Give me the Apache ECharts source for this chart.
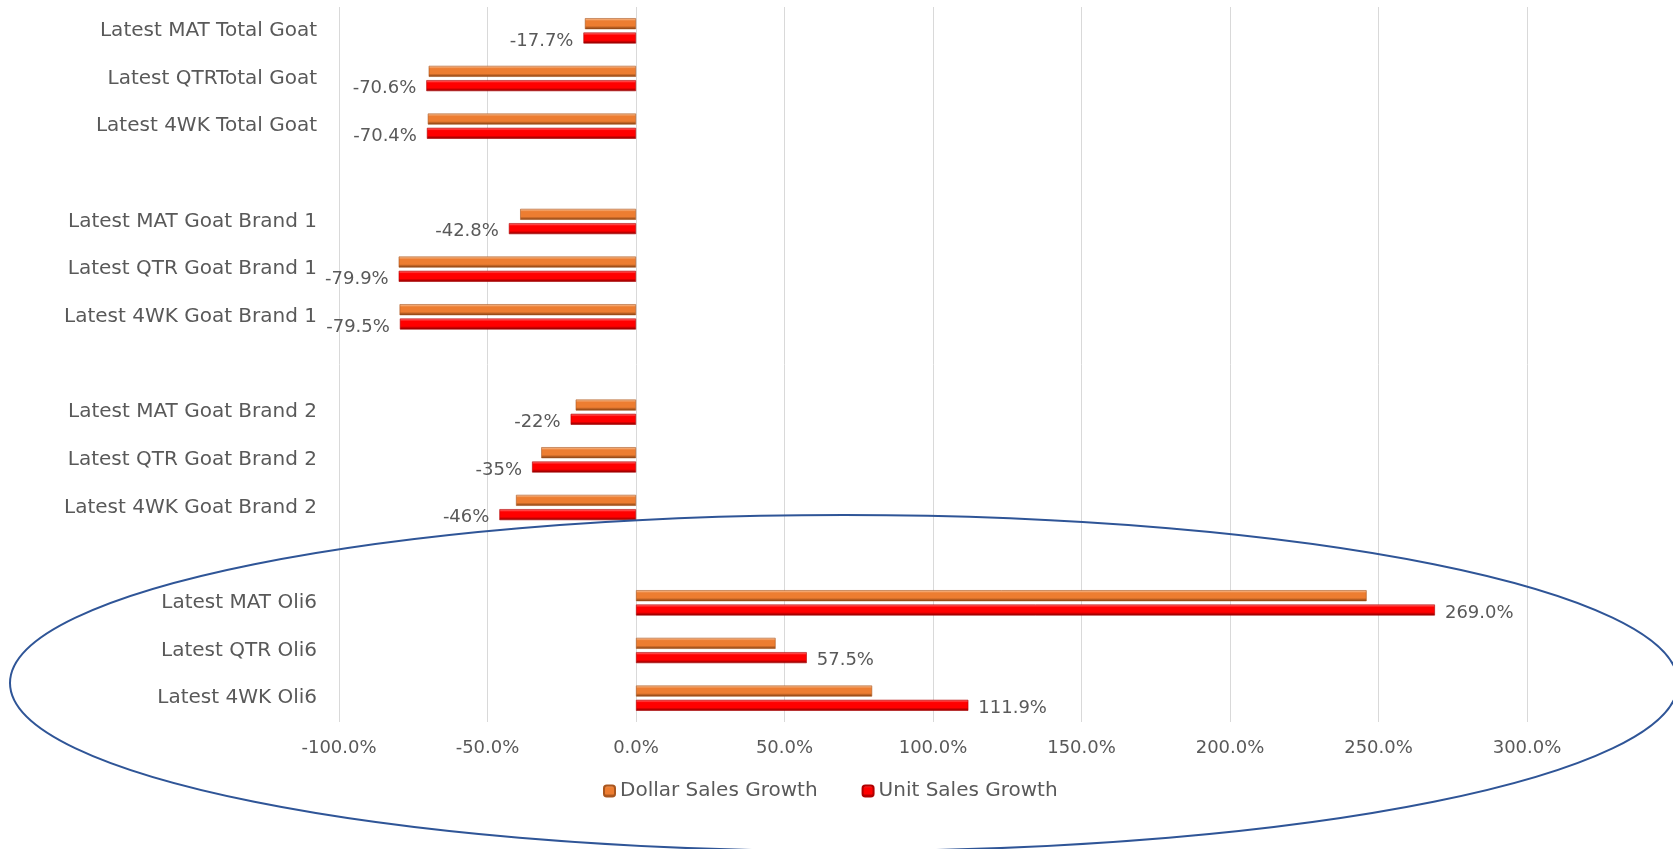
<!DOCTYPE html>
<html>
<head>
<meta charset="utf-8">
<script src="https://cdn.jsdelivr.net/npm/echarts@6/dist/echarts.min.js"></script>
<style>
html,body{margin:0;padding:0;background:#fff;}
#chart{width:1673px;height:849px;}
</style>
</head>
<body>
<div id="chart"></div>
<script>
// Categories (top to bottom); blank entries are spacer rows between groups
const categories = [
  'Latest MAT Total Goat', 'Latest QTRTotal Goat', 'Latest 4WK Total Goat', '',
  'Latest MAT Goat Brand 1', 'Latest QTR Goat Brand 1', 'Latest 4WK Goat Brand 1', ' ',
  'Latest MAT Goat Brand 2', 'Latest QTR Goat Brand 2', 'Latest 4WK Goat Brand 2', '  ',
  'Latest MAT Oli6', 'Latest QTR Oli6', 'Latest 4WK Oli6'
];
const dollarSalesGrowth = [
  -17.2, -69.8, -70.1, null,
  -39.0, -79.9, -79.6, null,
  -20.3, -31.9, -40.4, null,
  246.0, 47.0, 79.5
];
const unitSalesGrowth = [
  -17.7, -70.6, -70.4, null,
  -42.8, -79.9, -79.5, null,
  -22, -35, -46, null,
  269.0, 57.5, 111.9
];
const unitLabels = [
  '-17.7%', '-70.6%', '-70.4%', '',
  '-42.8%', '-79.9%', '-79.5%', '',
  '-22%', '-35%', '-46%', '',
  '269.0%', '57.5%', '111.9%'
];
const xTicks = { min: -100, max: 300, interval: 50 };

const FONT = 'DejaVu Sans';
const TXT = '#595959';

function grad(light, mid, dark) {
  return new echarts.graphic.LinearGradient(0, 0, 0, 1, [
    { offset: 0, color: light },
    { offset: 0.25, color: mid },
    { offset: 0.7, color: mid },
    { offset: 1, color: dark }
  ]);
}

const chart = echarts.init(document.getElementById('chart'));
chart.setOption({
  animation: false,
  backgroundColor: '#ffffff',
  textStyle: { fontFamily: FONT },
  grid: { left: 339, right: 146, top: 7, height: 715, containLabel: false },
  xAxis: {
    type: 'value',
    min: xTicks.min, max: xTicks.max, interval: xTicks.interval,
    axisLine: { show: false },
    axisTick: { show: false },
    splitLine: { show: true, lineStyle: { color: '#D9D9D9', width: 1 } },
    axisLabel: {
      margin: 17,
      color: TXT, fontSize: 18, fontFamily: FONT,
      formatter: v => v.toFixed(1) + '%'
    }
  },
  yAxis: {
    type: 'category',
    inverse: true,
    data: categories,
    axisLine: { show: false },
    axisTick: { show: false },
    splitLine: { show: false },
    axisLabel: { margin: 22, color: TXT, fontSize: 20, fontFamily: FONT }
  },
  legend: {
    bottom: 43,
    left: 598,
    itemWidth: 11, itemHeight: 11,
    itemGap: 44,
    textStyle: { color: TXT, fontSize: 20, fontFamily: FONT },
    data: ['Dollar Sales Growth', 'Unit Sales Growth']
  },
  series: [
    {
      name: 'Dollar Sales Growth',
      type: 'bar',
      data: dollarSalesGrowth,
      barWidth: 11,
      barGap: '30%',
      itemStyle: {
        color: grad('#F8C9A4', '#ED7D31', '#7A3A10'),
        borderColor: '#A9561E', borderWidth: 0.6
      }
    },
    {
      name: 'Unit Sales Growth',
      type: 'bar',
      barWidth: 11,
      data: unitSalesGrowth.map(v => v === null ? null : ({
        value: v,
        label: { position: v < 0 ? 'left' : 'right' }
      })),
      itemStyle: {
        color: grad('#FF8080', '#FF0000', '#7A0000'),
        borderColor: '#B00000', borderWidth: 0.6
      },
      label: {
        show: true,
        color: TXT, fontSize: 18, fontFamily: FONT,
        distance: 10,
        offset: [0, 3],
        formatter: p => unitLabels[p.dataIndex]
      }
    }
  ],
  graphic: [
    {
      type: 'ellipse',
      shape: { cx: 844, cy: 683, rx: 834, ry: 168 },
      style: { fill: null, stroke: '#2F5597', lineWidth: 2 },
      z: 100,
      silent: true
    }
  ]
});
</script>
</body>
</html>
